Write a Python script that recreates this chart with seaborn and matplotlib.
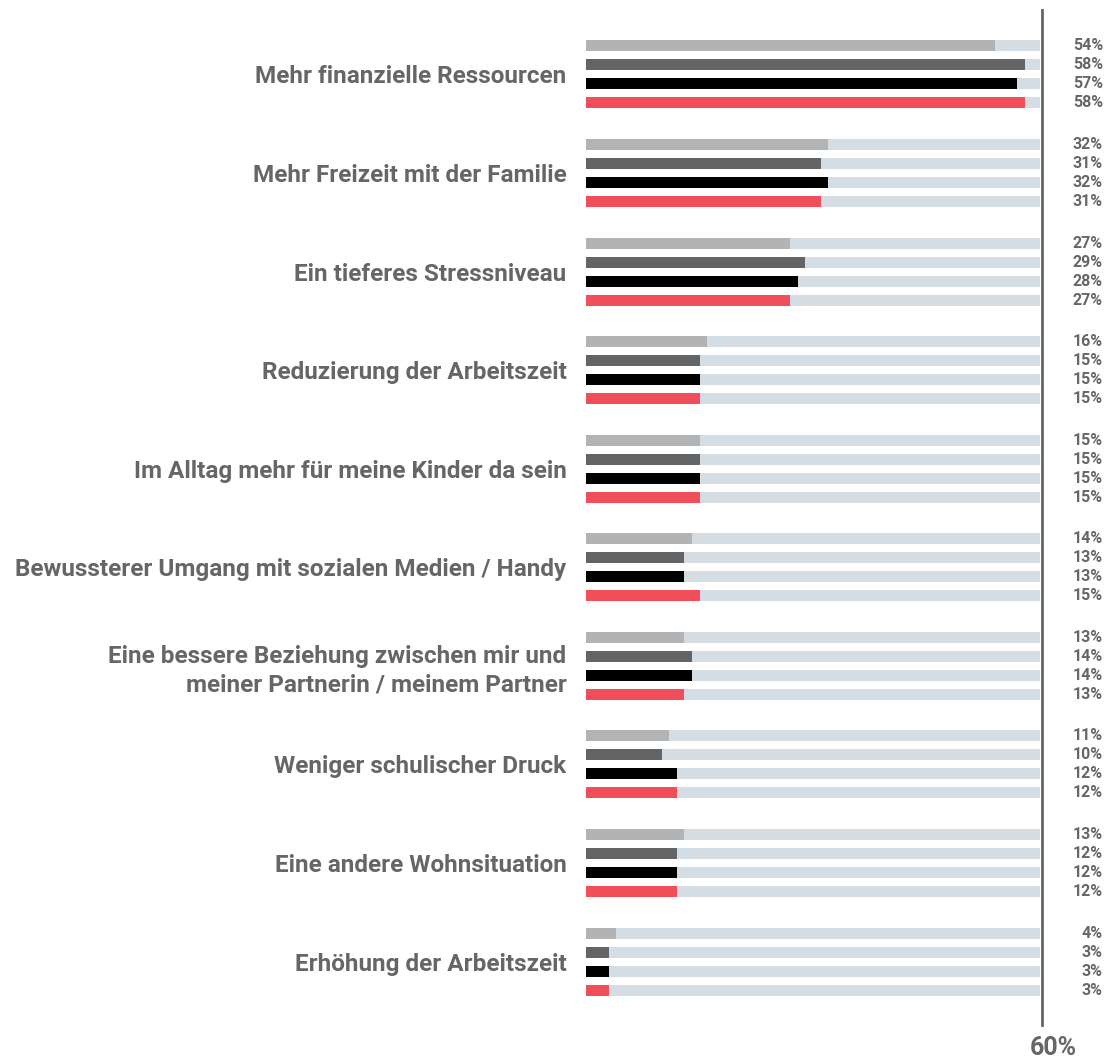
import matplotlib
matplotlib.use("Agg")
import matplotlib.pyplot as plt
import matplotlib.transforms as mtransforms
import seaborn as sns
import pandas as pd

categories = [
    "Mehr finanzielle Ressourcen",
    "Mehr Freizeit mit der Familie",
    "Ein tieferes Stressniveau",
    "Reduzierung der Arbeitszeit",
    "Im Alltag mehr für meine Kinder da sein",
    "Bewussterer Umgang mit sozialen Medien / Handy",
    "Eine bessere Beziehung zwischen mir und\nmeiner Partnerin / meinem Partner",
    "Weniger schulischer Druck",
    "Eine andere Wohnsituation",
    "Erhöhung der Arbeitszeit",
]
series_names = ["Serie 1", "Serie 2", "Serie 3", "Serie 4"]
serie_1 = [54, 32, 27, 16, 15, 14, 13, 11, 13, 4]
serie_2 = [58, 31, 29, 15, 15, 13, 14, 10, 12, 3]
serie_3 = [57, 32, 28, 15, 15, 13, 14, 12, 12, 3]
serie_4 = [58, 31, 27, 15, 15, 15, 13, 12, 12, 3]
axis_max = 60

colors = ["#b1b3b5", "#636466", "#000000", "#f04e5a"]
bg_color = "#d5dde4"
text_color = "#666666"

rows = []
for name, vals in zip(series_names, [serie_1, serie_2, serie_3, serie_4]):
    for c, v in zip(categories, vals):
        rows.append({"category": c, "series": name, "value": v, "full": axis_max})
df = pd.DataFrame(rows)

sns.set_theme(style="white")
plt.rcParams["font.family"] = ["Roboto", "DejaVu Sans"]

W, H = 1120, 1059
fig = plt.figure(figsize=(W / 100, H / 100), dpi=100)
left_px, right_px = 586, 1042
top_px, bottom_px = 10, 1025
ax = fig.add_axes([left_px / W, 1 - bottom_px / H, (right_px - left_px) / W, (bottom_px - top_px) / H])

bar_width = 0.771
gap = 0.42
sns.barplot(data=df, y="category", x="full", hue="series", order=categories,
            hue_order=series_names, palette=[bg_color] * 4, width=bar_width, gap=gap,
            orient="y", ax=ax, legend=False, saturation=1, errorbar=None)
n_bg = len(ax.patches)
sns.barplot(data=df, y="category", x="value", hue="series", order=categories,
            hue_order=series_names, palette=colors, width=bar_width, gap=gap,
            orient="y", ax=ax, legend=False, saturation=1, errorbar=None)

for p in ax.patches:
    p.set_linewidth(0)

ax.set_xlim(0, axis_max * (right_px - left_px) / (1040 - left_px))
ax.set_ylim(9 + (bottom_px - 961.5) / 98.6, -(74.5 - top_px) / 98.6)

for s in ["top", "left", "bottom"]:
    ax.spines[s].set_visible(False)
ax.spines["right"].set_color(text_color)
ax.spines["right"].set_linewidth(2)
ax.set_xticks([])
ax.set_xlabel("")
ax.set_ylabel("")
ax.tick_params(axis="y", length=0, pad=14)
for lab in ax.get_yticklabels():
    lab.set_fontsize(17.5)
    lab.set_fontweight("bold")
    lab.set_color(text_color)
    lab.set_horizontalalignment("right")
    lab.set_linespacing(1.3)

# value labels at fixed x to the right of the axis
trans = mtransforms.blended_transform_factory(fig.transFigure, ax.transData)
data_patches = ax.patches[n_bg:]
for p in data_patches:
    w = p.get_width()
    yc = p.get_y() + p.get_height() / 2
    ax.text(1103 / W, yc, f"{w:.0f}%", transform=trans, ha="right", va="center",
            fontsize=11.5, fontweight="bold", color=text_color)

fig.text(1053 / W, 1 - 1048 / H, f"{axis_max}%", ha="center", va="center",
         fontsize=18, fontweight="bold", color=text_color)

fig.savefig("out.png", dpi=100, facecolor="white")
